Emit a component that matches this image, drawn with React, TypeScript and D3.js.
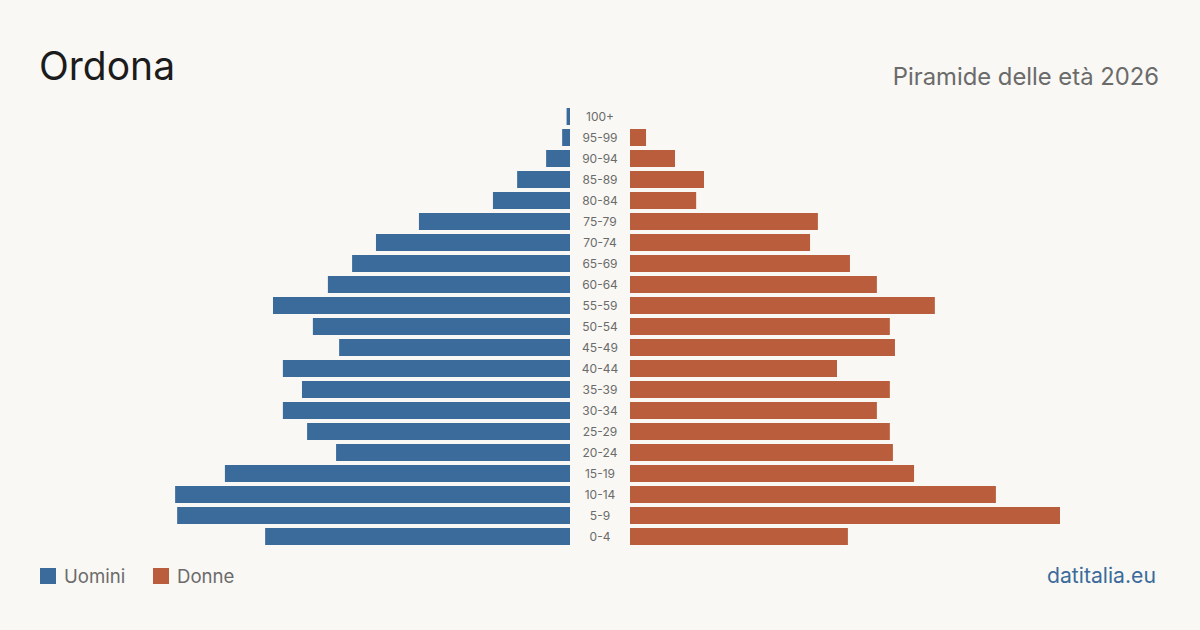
import React, { useEffect, useRef } from 'react';
import * as d3 from 'd3';

// fasce d'età, dalla più anziana alla più giovane (ordine dall'alto)
const ageGroups = ['100+', '95-99', '90-94', '85-89', '80-84', '75-79', '70-74', '65-69', '60-64', '55-59',
  '50-54', '45-49', '40-44', '35-39', '30-34', '25-29', '20-24', '15-19', '10-14', '5-9', '0-4'];

const men = [1, 2.3, 7, 15.5, 22.6, 44.3, 56.9, 63.9, 71, 87.1, 75.4, 67.7, 84.2, 78.6, 84.2, 77.1, 68.6, 101.2, 115.8, 115.2, 89.4];
const women = [0, 4.7, 13.2, 21.7, 19.4, 55.1, 52.8, 64.5, 72.4, 89.4, 76.2, 77.7, 60.7, 76.2, 72.4, 76.2, 77.1, 83.3, 107.3, 126.1, 63.9];

const title = 'Ordona';
const subtitle = 'Piramide delle età 2026';
const legendLabels = ['Uomini', 'Donne'];
const source = 'datitalia.eu';

const W = 1200;
const H = 630;
const BLUE = '#3b6b9b';
const RED = '#b95d3d';
const FONT = 'Inter, "Noto Sans", sans-serif';

const Pyramid = () => {
  const ref = useRef(null);

  useEffect(() => {
    const svg = d3.select(ref.current);
    svg.selectAll('*').remove();

    const maxVal = d3.max([...men, ...women]);

    const y = d3.scaleBand()
      .domain(ageGroups)
      .range([106, 547])
      .paddingInner(4 / 21)
      .paddingOuter(2 / 21);

    const xLeft = d3.scaleLinear().domain([0, maxVal]).range([570, 140]);
    const xRight = d3.scaleLinear().domain([0, maxVal]).range([630, 1060]);

    svg.append('rect').attr('width', W).attr('height', H).attr('fill', '#f9f8f4');

    svg.append('text')
      .attr('x', 39).attr('y', 80)
      .attr('font-size', 39).attr('fill', '#1c1c1c')
      .attr('font-family', FONT)
      .text(title);

    svg.append('text')
      .attr('x', 1159).attr('y', 85)
      .attr('text-anchor', 'end')
      .attr('font-size', 23.8).attr('fill', '#6b6b6b')
      .attr('font-family', FONT)
      .text(subtitle);

    svg.append('g')
      .selectAll('rect')
      .data(men)
      .join('rect')
      .attr('x', d => xLeft(d))
      .attr('y', (d, i) => y(ageGroups[i]))
      .attr('width', d => 570 - xLeft(d))
      .attr('height', y.bandwidth())
      .attr('fill', BLUE);

    svg.append('g')
      .selectAll('rect')
      .data(women)
      .join('rect')
      .attr('x', 630)
      .attr('y', (d, i) => y(ageGroups[i]))
      .attr('width', d => xRight(d) - 630)
      .attr('height', y.bandwidth())
      .attr('fill', RED);

    svg.append('g')
      .selectAll('text')
      .data(ageGroups)
      .join('text')
      .attr('x', 600)
      .attr('y', d => y(d) + y.bandwidth() / 2)
      .attr('dy', '0.35em')
      .attr('text-anchor', 'middle')
      .attr('font-size', 12)
      .attr('fill', '#6b6b6b')
      .attr('font-family', FONT)
      .text(d => d);

    // legenda
    const legend = svg.append('g');
    const legendX = [40, 153];
    legendLabels.forEach((label, i) => {
      legend.append('rect')
        .attr('x', legendX[i]).attr('y', 568)
        .attr('width', 16).attr('height', 16)
        .attr('fill', i === 0 ? BLUE : RED);
      legend.append('text')
        .attr('x', legendX[i] + 24).attr('y', 583)
        .attr('font-size', 18.6).attr('fill', '#6b6b6b')
        .attr('font-family', FONT)
        .text(label);
    });

    svg.append('text')
      .attr('x', 1156).attr('y', 583)
      .attr('text-anchor', 'end')
      .attr('font-size', 21.2).attr('fill', BLUE)
      .attr('font-family', FONT)
      .text(source);
  });

  return (
    <svg
      ref={ref}
      width={W}
      height={H}
      viewBox={`0 0 ${W} ${H}`}
      style={{ position: 'absolute', left: 0, top: 0, display: 'block' }}
    />
  );
};

export default function App() {
  return <Pyramid />;
}
